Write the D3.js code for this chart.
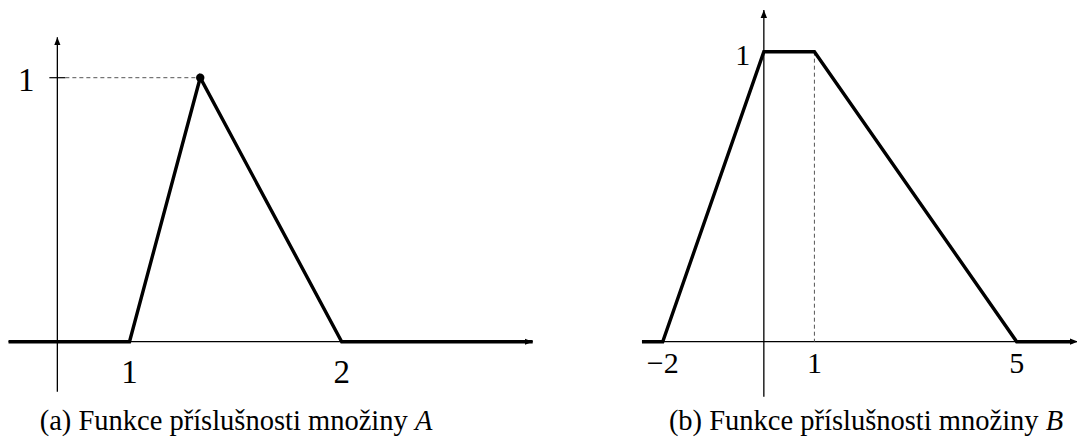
<!DOCTYPE html>
<html>
<head>
<meta charset="utf-8">
<script src="https://cdn.jsdelivr.net/npm/d3@7"></script>
<style>
  html, body { margin: 0; padding: 0; background: #fff; }
  svg { display: block; }
  text { font-family: "Liberation Serif", "DejaVu Serif", serif; fill: #000; }
</style>
</head>
<body>
<svg id="chart" width="1077" height="442"></svg>
<script>
// Membership function of set A: triangle on [1, 2] with its peak at 4/3
const pointsA = [
  { x: 0.43, y: 0 },
  { x: 1, y: 0 },
  { x: 4 / 3, y: 1 },
  { x: 2, y: 0 },
  { x: 2.9, y: 0 }
];
const xTicksA = [1, 2];
const yTicksA = [1];
const peakA = [{ x: 4 / 3, y: 1 }];

// Membership function of set B: trapezoid -2, 0, 1, 5
const pointsB = [
  { x: -2.41, y: 0 },
  { x: -2, y: 0 },
  { x: 0, y: 1 },
  { x: 1, y: 1 },
  { x: 5, y: 0 },
  { x: 6.1, y: 0 }
];
const xTicksB = [-2, 1, 5];
const yTicksB = [1];
const guideB = [{ x: 1, y: 1 }];

const captionA = ["(a) Funkce příslušnosti množiny ", "A"];
const captionB = ["(b) Funkce příslušnosti množiny ", "B"];

const svg = d3.select("#chart");

// arrowhead used by both coordinate systems
const defs = svg.append("defs");
defs.append("marker")
  .attr("id", "arrow")
  .attr("viewBox", "0 0 10 10")
  .attr("refX", 10).attr("refY", 5)
  .attr("markerWidth", 8).attr("markerHeight", 8)
  .attr("markerUnits", "userSpaceOnUse")
  .attr("orient", "auto")
  .append("path")
  .attr("d", "M0,1 L10,5 L0,9 Z")
  .attr("fill", "#000");

const fmt = d => (d < 0 ? "\u2212" + Math.abs(d) : String(d));

function drawPanel(cfg) {
  const g = svg.append("g");
  const x = d3.scaleLinear().domain(cfg.xDomain).range(cfg.xRange);
  const y = d3.scaleLinear().domain([0, 1]).range(cfg.yRange);

  // horizontal axis
  g.append("line")
    .attr("x1", x(cfg.xAxisFrom)).attr("x2", x(cfg.xAxisTo))
    .attr("y1", y(0)).attr("y2", y(0))
    .attr("stroke", "#000").attr("stroke-width", 1.3)
    .attr("marker-end", "url(#arrow)");

  // vertical axis
  g.append("line")
    .attr("x1", x(cfg.yAxisAt)).attr("x2", x(cfg.yAxisAt))
    .attr("y1", y(cfg.yAxisFrom)).attr("y2", y(cfg.yAxisTo))
    .attr("stroke", "#000").attr("stroke-width", 1.3)
    .attr("marker-end", "url(#arrow)");

  // dashed guides
  cfg.draw(g, x, y);

  // membership function
  g.append("path")
    .datum(cfg.points)
    .attr("d", d3.line().x(d => x(d.x)).y(d => y(d.y)))
    .attr("fill", "none")
    .attr("stroke", "#000")
    .attr("stroke-width", 3.4)
    .attr("stroke-linejoin", "miter");

  // tick labels
  g.selectAll("text.xt")
    .data(cfg.xTicks)
    .join("text")
    .attr("class", "xt")
    .attr("x", d => x(d))
    .attr("y", y(0) + cfg.xLabelDy)
    .attr("text-anchor", "middle")
    .attr("font-size", cfg.fontSize)
    .text(fmt);

  g.selectAll("text.yt")
    .data(cfg.yTicks)
    .join("text")
    .attr("class", "yt")
    .attr("x", x(cfg.yAxisAt) - cfg.yLabelDx)
    .attr("y", d => y(d) + cfg.yLabelDy)
    .attr("text-anchor", "middle")
    .attr("font-size", cfg.fontSize)
    .text(fmt);

  // caption
  const cap = g.append("text")
    .attr("x", cfg.captionX)
    .attr("y", 430)
    .attr("text-anchor", "middle")
    .attr("font-size", 28.5);
  cap.append("tspan").text(cfg.caption[0]);
  cap.append("tspan").attr("font-style", "italic").text(cfg.caption[1]);
}

drawPanel({
  xDomain: [1, 2], xRange: [129.5, 341.7],
  yRange: [341.7, 77.7],
  xAxisFrom: 0.43, xAxisTo: 2.9,
  yAxisAt: 0.66, yAxisFrom: -0.19, yAxisTo: 1.153,
  points: pointsA, xTicks: xTicksA, yTicks: yTicksA,
  fontSize: 33, xLabelDy: 41, yLabelDx: 31, yLabelDy: 13,
  caption: captionA, captionX: 236,
  draw(g, x, y) {
    // tick on the vertical axis
    g.selectAll("line.ytick")
      .data(yTicksA)
      .join("line")
      .attr("class", "ytick")
      .attr("x1", x(0.66) - 8).attr("x2", x(0.66) + 8)
      .attr("y1", d => y(d)).attr("y2", d => y(d))
      .attr("stroke", "#000").attr("stroke-width", 1.2);
    g.selectAll("line.guide")
      .data(peakA)
      .join("line")
      .attr("class", "guide")
      .attr("x1", x(0.66) + 8).attr("x2", d => x(d.x))
      .attr("y1", d => y(d.y)).attr("y2", d => y(d.y))
      .attr("stroke", "#555").attr("stroke-width", 1)
      .attr("stroke-dasharray", "4,3");
    g.selectAll("circle.peak")
      .data(peakA)
      .join("circle")
      .attr("class", "peak")
      .attr("cx", d => x(d.x)).attr("cy", d => y(d.y))
      .attr("r", 4.2)
      .attr("fill", "#000");
  }
});

drawPanel({
  xDomain: [-2, 5], xRange: [662.7, 1016.7],
  yRange: [341.7, 51.7],
  xAxisFrom: -2.41, xAxisTo: 6.21,
  yAxisAt: 0, yAxisFrom: -0.19, yAxisTo: 1.144,
  points: pointsB, xTicks: xTicksB, yTicks: yTicksB,
  fontSize: 30, xLabelDy: 31, yLabelDx: 21, yLabelDy: 13,
  caption: captionB, captionX: 866,
  draw(g, x, y) {
    g.selectAll("line.guide")
      .data(guideB)
      .join("line")
      .attr("class", "guide")
      .attr("x1", d => x(d.x)).attr("x2", d => x(d.x))
      .attr("y1", d => y(d.y)).attr("y2", y(0))
      .attr("stroke", "#555").attr("stroke-width", 1)
      .attr("stroke-dasharray", "4,3");
  }
});
</script>
</body>
</html>
